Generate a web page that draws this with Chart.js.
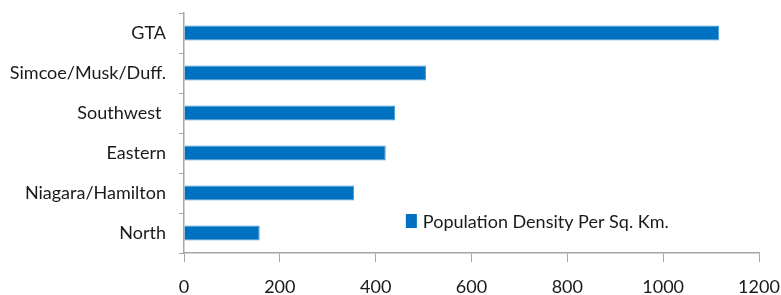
<!DOCTYPE html>
<html>
<head>
<meta charset="utf-8">
<script src="https://cdn.jsdelivr.net/npm/chart.js@4"></script>
<style>
  html, body { margin: 0; padding: 0; background: #fff; }
  #wrap { width: 781px; height: 295px; }
</style>
</head>
<body>
<div id="wrap"><canvas id="densityChart" width="781" height="295"></canvas></div>
<script>
const regions = ["GTA", "Simcoe/Musk/Duff.", "Southwest ", "Eastern", "Niagara/Hamilton", "North"];
const density = [1117, 505, 441, 421, 355, 158];
const xTicks = [0, 200, 400, 600, 800, 1000, 1200];
const seriesName = "Population Density Per Sq. Km.";

const fontFamily = "Lato, sans-serif";
const textColor = "#1a1a1a";
const axisColor = "#a6a6a6";

// legend sits inside the plot, bottom right
const insideLegend = {
  id: "insideLegend",
  afterDraw(chart) {
    const ctx = chart.ctx;
    const ds = chart.data.datasets[0];
    const x = chart.scales.x.getPixelForValue(463);
    const y = chart.scales.y.getPixelForValue(4.7);
    ctx.save();
    ctx.fillStyle = ds.backgroundColor;
    ctx.fillRect(x, y - 7, 11, 14);
    ctx.fillStyle = textColor;
    ctx.font = "18px " + fontFamily;
    ctx.textBaseline = "middle";
    ctx.textAlign = "left";
    ctx.fillText(ds.label, x + 17, y + 1);
    ctx.restore();
  },
};

new Chart(document.getElementById("densityChart").getContext("2d"), {
  type: "bar",
  data: {
    labels: regions,
    datasets: [
      {
        label: seriesName,
        data: density,
        backgroundColor: "#0070C0",
        borderColor: "#4a9ad6",
        borderWidth: 1,
        barPercentage: 0.38,
        categoryPercentage: 1,
      },
    ],
  },
  options: {
    indexAxis: "y",
    responsive: false,
    animation: false,
    layout: { padding: { top: 13, right: 22, left: 0, bottom: 0 } },
    plugins: {
      legend: { display: false },
      tooltip: { enabled: false },
    },
    scales: {
      x: {
        min: 0,
        max: 1200,
        afterBuildTicks: (scale) => {
          scale.ticks = xTicks.map((v) => ({ value: v }));
        },
        afterFit: (scale) => {
          scale.height = 42;
          scale.paddingLeft = 0;
          scale.paddingRight = 0;
        },
        grid: { drawOnChartArea: false, tickLength: 9, color: axisColor },
        border: { color: axisColor, width: 1.5 },
        ticks: {
          color: textColor,
          font: { family: fontFamily, size: 18 },
          padding: 14,
          callback: (v) => String(v),
        },
      },
      y: {
        afterFit: (scale) => {
          scale.width = 184;
          scale.paddingTop = 0;
          scale.paddingBottom = 0;
        },
        grid: { drawOnChartArea: false, tickLength: 5, color: axisColor, offset: true },
        border: { color: axisColor, width: 1.5 },
        ticks: { color: textColor, font: { family: fontFamily, size: 18 }, padding: 13 },
      },
    },
  },
  plugins: [insideLegend],
});
</script>
</body>
</html>
